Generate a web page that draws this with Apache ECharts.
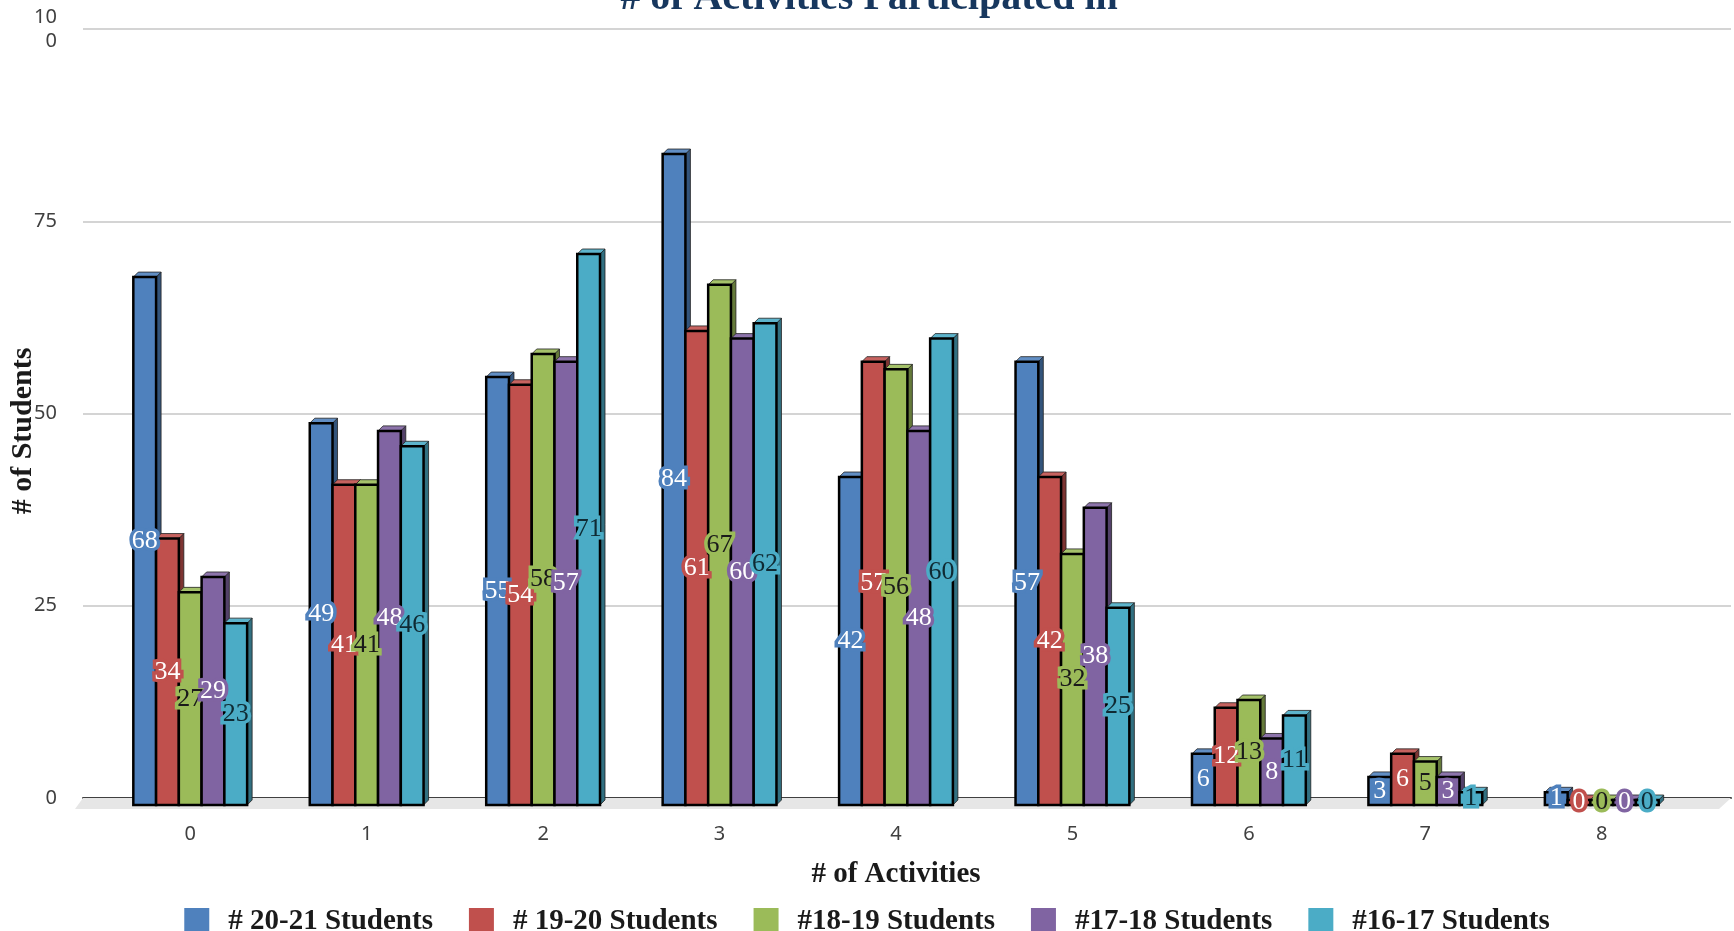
<!DOCTYPE html>
<html><head><meta charset="utf-8">
<script src="https://cdn.jsdelivr.net/npm/echarts@6/dist/echarts.min.js"></script>
<style>html,body{margin:0;padding:0;background:#fff}#c{width:1734px;height:931px}</style>
</head><body><div id="c"></div>
<script>
const categories = ['0','1','2','3','4','5','6','7','8'];
const seriesNames = ['# 20-21 Students','# 19-20 Students','#18-19 Students','#17-18 Students','#16-17 Students'];
const s2021 = [68, 49, 55, 84, 42, 57, 6, 3, 1];
const s1920 = [34, 41, 54, 61, 57, 42, 12, 6, 0];
const s1819 = [27, 41, 58, 67, 56, 32, 13, 5, 0];
const s1718 = [29, 48, 57, 60, 48, 38, 8, 3, 0];
const s1617 = [23, 46, 71, 62, 60, 25, 11, 1, 0];
const yTicks = [0, 25, 50, 75, 100];

const allData = [s2021, s1920, s1819, s1718, s1617];
const colors = ['#4F81BD','#C0504D','#9BBB59','#8064A2','#4BACC6'];
const labelFill = ['#ffffff','#ffffff','#1a1a1a','#ffffff','#0f2a33'];

function shade(hex, f){
  const n = parseInt(hex.slice(1),16);
  let r=(n>>16)&255,g=(n>>8)&255,b=n&255;
  if(f<0){ r=Math.round(r*(1+f)); g=Math.round(g*(1+f)); b=Math.round(b*(1+f)); }
  else { r=Math.round(r+(255-r)*f); g=Math.round(g+(255-g)*f); b=Math.round(b+(255-b)*f); }
  return 'rgb('+r+','+g+','+b+')';
}

function makeRender(si){
  return function(params, api){
    const cat = api.value(0), val = api.value(1);
    const base = api.coord([cat, 0]);
    const top = api.coord([cat, val]);
    const band = api.size([1,0])[0];
    const bw = band*0.129;
    const x0 = base[0] + (si-2.5)*bw;
    const d = 5;
    const yb = base[1]+7, yt = Math.min(top[1]+2, yb-1);
    const c = colors[si];
    return {type:'group', children:[
      {type:'polygon', shape:{points:[[x0+bw,yt],[x0+bw+d,yt-d],[x0+bw+d,yb-d],[x0+bw,yb]]},
        style:{fill:shade(c,-0.35), stroke:'#222', lineWidth:0.8}},
      {type:'polygon', shape:{points:[[x0,yt],[x0+d,yt-d],[x0+bw+d,yt-d],[x0+bw,yt]]},
        style:{fill:shade(c,0.1), stroke:'#222', lineWidth:0.8}},
      {type:'rect', shape:{x:x0, y:yt, width:bw, height:yb-yt},
        style:{fill:c, stroke:'#000', lineWidth:2.5}},
      {type:'text', z2:100, style:{text:String(val), x:x0+bw/2, y:(yt+yb)/2,
        align:'center', verticalAlign:'middle', fill:labelFill[si], stroke:c, lineWidth:7,
        lineJoin:'round', font:'26px "Liberation Serif", serif'}}
    ]};
  };
}

const series = allData.map((arr, si) => ({
  name: seriesNames[si], type:'custom', xAxisIndex:0, yAxisIndex:0,
  itemStyle:{color:colors[si]},
  renderItem: makeRender(si),
  data: arr.map((v,i)=>[i,v])
}));

series.unshift({
  name:'floor', type:'custom', xAxisIndex:1, yAxisIndex:1, z:1, silent:true,
  renderItem: function(params, api){
    const cs = params.coordSys;
    const y = cs.y + cs.height;
    return {type:'polygon', shape:{points:[[cs.x, y],[cs.x+cs.width, y],[cs.x+cs.width-12, y+11],[cs.x-8, y+11]]},
      style:{fill:'#E6E6E6'}};
  },
  data:[[0,0]]
});

const chart = echarts.init(document.getElementById('c'));
chart.setOption({
  animation:false,
  title:{text:'# of Activities Participated in', left:864, textAlign:'center', top:-26,
    textStyle:{fontFamily:'"Liberation Serif", serif', fontWeight:'bold', fontSize:40, color:'#17375E'}},
  legend:{data:seriesNames.map((n,i)=>({name:n, itemStyle:{color:colors[i]}})),
    top:902, left:'center', itemWidth:25, itemHeight:27, itemGap:36, icon:'rect',
    textStyle:{fontFamily:'"Liberation Serif", serif', fontWeight:'bold', fontSize:29, color:'#1a1a1a',
      padding:[0,0,0,14]}},
  grid:[
    {left:102, right:44, top:29, bottom:133},
    {left:83, right:3, top:29, bottom:133}
  ],
  xAxis:[
    {type:'category', gridIndex:0, data:categories,
      axisLine:{show:false}, axisTick:{show:false},
      axisLabel:{margin:26, fontSize:20, color:'#404040', fontFamily:'"Noto Sans", sans-serif'},
      name:'# of Activities', nameLocation:'middle', nameGap:62,
      nameTextStyle:{fontFamily:'"Liberation Serif", serif', fontWeight:'bold', fontSize:29, color:'#1a1a1a'}},
    {type:'value', gridIndex:1, min:0, max:1,
      axisLine:{show:true, lineStyle:{color:'#404040', width:2}}, axisTick:{show:false},
      axisLabel:{show:false}, splitLine:{show:false}}
  ],
  yAxis:[
    {type:'value', gridIndex:0, min:0, max:100, show:false},
    {type:'value', gridIndex:1, min:0, max:100, interval:25,
      axisLine:{show:false}, axisTick:{show:false},
      splitLine:{lineStyle:{color:'#D4D4D4', width:2}},
      axisLabel:{margin:26, fontSize:20, color:'#404040', fontFamily:'"Noto Sans", sans-serif', lineHeight:24,
        formatter: v => (yTicks.indexOf(v)>=0 ? (v===100 ? '10\n0' : String(v)) : '')}}
  ],
  graphic:[{type:'text', x:23, y:431, rotation:Math.PI/2,
    style:{text:'# of Students', align:'center', verticalAlign:'middle',
      font:'bold 30px "Liberation Serif", serif', fill:'#1a1a1a'}}],
  series: series
});
</script></body></html>
